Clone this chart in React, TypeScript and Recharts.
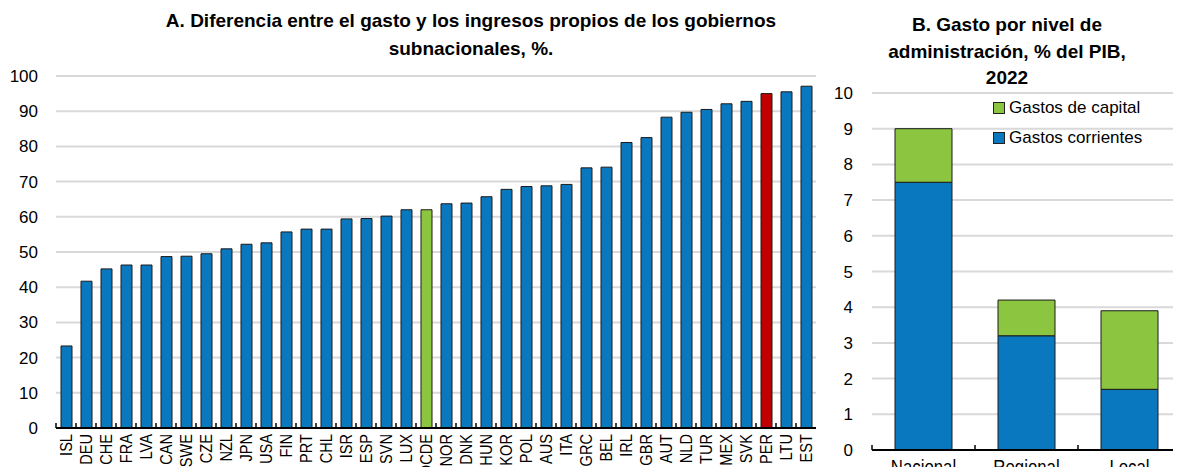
import { BarChart, Bar, XAxis, YAxis, CartesianGrid, Cell, Legend } from 'recharts'

const FONT = "'Liberation Sans Narrow', 'Arial Narrow', 'Liberation Sans', Arial, sans-serif"
const BLUE = '#0a78be'
const GREEN = '#8cc641'
const RED = '#c00000'
const GRID = '#d9d9d9'

// Panel A
const countries = [
  'ISL', 'DEU', 'CHE', 'FRA', 'LVA', 'CAN', 'SWE', 'CZE', 'NZL', 'JPN', 'USA', 'FIN', 'PRT',
  'CHL', 'ISR', 'ESP', 'SVN', 'LUX', 'OCDE', 'NOR', 'DNK', 'HUN', 'KOR', 'POL', 'AUS', 'ITA',
  'GRC', 'BEL', 'IRL', 'GBR', 'AUT', 'NLD', 'TUR', 'MEX', 'SVK', 'PER', 'LTU', 'EST',
]
const gapValues = [
  23.3, 41.7, 45.2, 46.3, 46.3, 48.7, 48.8, 49.5, 50.9, 52.2, 52.6, 55.7, 56.5,
  56.5, 59.4, 59.5, 60.2, 62.0, 62.0, 63.7, 63.9, 65.7, 67.8, 68.6, 68.8, 69.2,
  73.9, 74.1, 81.1, 82.5, 88.3, 89.7, 90.5, 92.1, 92.8, 95.0, 95.5, 97.1,
]
const yTicksA = [0, 10, 20, 30, 40, 50, 60, 70, 80, 90, 100]
const highlight: Record<string, string> = { OCDE: GREEN, PER: RED }

// Panel B
const levels = ['Nacional', 'Regional', 'Local']
const corrientes = [7.5, 3.2, 1.7]
const capital = [1.5, 1.0, 2.2]
const yTicksB = [0, 1, 2, 3, 4, 5, 6, 7, 8, 9, 10]

const dataA = countries.map((c, i) => ({ name: c, value: gapValues[i] }))
const dataB = levels.map((l, i) => ({ name: l, corrientes: corrientes[i], capital: capital[i] }))

// chart box sizes (plot width / category count gives the band width for the divider ticks)
const A_W = 820, A_LEFT = 56, A_RIGHT = 4
const B_W = 361, B_LEFT = 52
const bandA = (A_W - A_LEFT - A_RIGHT) / countries.length
const bandB = (B_W - B_LEFT) / levels.length

// labels are squeezed a bit to look like the narrow font of the original
function CountryTick(props: any) {
  const { x, y, payload, band } = props
  return (
    <g>
      <line x1={x - band / 2} x2={x - band / 2} y1={y} y2={y - 5} stroke="#000" strokeWidth={1.5} />
      <text
        transform={`translate(${x}, ${y + 6}) rotate(-90) scale(0.86, 1)`}
        textAnchor="end"
        dy="0.35em"
        fontSize={17}
        fontFamily={FONT}
        fill="#000"
      >
        {payload.value}
      </text>
    </g>
  )
}

function LevelTick(props: any) {
  const { x, y, payload, band } = props
  return (
    <g>
      <line x1={x - band / 2} x2={x - band / 2} y1={y} y2={y - 5} stroke="#000" strokeWidth={1.5} />
      <text
        transform={`translate(${x}, ${y + 24}) scale(0.84, 1)`}
        textAnchor="middle"
        fontSize={20}
        fontFamily={FONT}
        fill="#000"
      >
        {payload.value}
      </text>
    </g>
  )
}

function LegendB(props: any) {
  const items = [...(props.payload || [])].reverse()
  return (
    <div style={{ fontFamily: FONT, fontSize: 17, color: '#000' }}>
      {items.map((it: any) => (
        <div key={it.value} style={{ display: 'flex', alignItems: 'center', height: 30 }}>
          <span
            style={{
              display: 'inline-block',
              width: 10,
              height: 10,
              background: it.color,
              border: '1px solid #222',
              marginRight: 4,
            }}
          />
          {it.value}
        </div>
      ))}
    </div>
  )
}

const tickStyle = { fill: '#000', fontSize: 17, fontFamily: FONT }

export default function App() {
  return (
    <div style={{ position: 'relative', width: 1181, height: 475, background: '#fff', margin: -8, overflow: 'hidden' }}>
      <div
        style={{
          position: 'absolute',
          left: 121,
          top: 7,
          width: 700,
          textAlign: 'center',
          fontFamily: FONT,
          fontWeight: 'bold',
          fontSize: 19,
          lineHeight: '28px',
          color: '#000',
        }}
      >
        A. Diferencia entre el gasto y los ingresos propios de los gobiernos
        <br />
        subnacionales, %.
      </div>
      <div
        style={{
          position: 'absolute',
          left: 857,
          top: 12,
          width: 300,
          textAlign: 'center',
          fontFamily: FONT,
          fontWeight: 'bold',
          fontSize: 19,
          lineHeight: '26.5px',
          color: '#000',
        }}
      >
        B. Gasto por nivel de
        <br />
        administración, % del PIB,
        <br />
        2022
      </div>

      <div style={{ position: 'absolute', left: 0, top: 0 }}>
        <BarChart width={A_W} height={475} data={dataA} margin={{ top: 76, right: A_RIGHT, bottom: 0, left: 0 }}>
          <CartesianGrid vertical={false} stroke={GRID} strokeWidth={2} />
          <YAxis
            width={A_LEFT}
            domain={[0, 100]}
            ticks={yTicksA}
            interval={0}
            axisLine={false}
            tickLine={false}
            tickSize={0}
            tickMargin={18}
            tick={tickStyle}
          />
          <XAxis
            dataKey="name"
            height={47}
            interval={0}
            tickSize={0}
            tickMargin={0}
            tickLine={false}
            axisLine={{ stroke: '#000', strokeWidth: 2 }}
            tick={<CountryTick band={bandA} />}
          />
          <Bar dataKey="value" barSize={11} fill={BLUE} stroke="#1a1a1a" strokeWidth={1} isAnimationActive={false}>
            {dataA.map(d => (
              <Cell key={d.name} fill={highlight[d.name] || BLUE} />
            ))}
          </Bar>
        </BarChart>
      </div>

      <div style={{ position: 'absolute', left: 820, top: 0 }}>
        <BarChart width={B_W} height={475} data={dataB} margin={{ top: 93, right: 0, bottom: 0, left: 0 }}>
          <CartesianGrid vertical={false} stroke={GRID} strokeWidth={2} />
          <YAxis
            width={B_LEFT}
            domain={[0, 10]}
            ticks={yTicksB}
            interval={0}
            axisLine={false}
            tickLine={false}
            tickSize={0}
            tickMargin={19}
            tick={tickStyle}
          />
          <XAxis
            dataKey="name"
            height={25}
            interval={0}
            tickSize={0}
            tickMargin={0}
            tickLine={false}
            axisLine={{ stroke: '#000', strokeWidth: 2 }}
            tick={<LevelTick band={bandB} />}
          />
          <Legend
            content={<LegendB />}
            layout="vertical"
            verticalAlign="middle"
            align="center"
            wrapperStyle={{ position: 'absolute', left: 173, top: 93, width: 180 }}
          />
          <Bar dataKey="corrientes" name="Gastos corrientes" stackId="a" barSize={57} fill={BLUE} stroke="#1a1a1a" strokeWidth={1} isAnimationActive={false} />
          <Bar dataKey="capital" name="Gastos de capital" stackId="a" barSize={57} fill={GREEN} stroke="#1a1a1a" strokeWidth={1} isAnimationActive={false} />
        </BarChart>
      </div>
    </div>
  )
}
